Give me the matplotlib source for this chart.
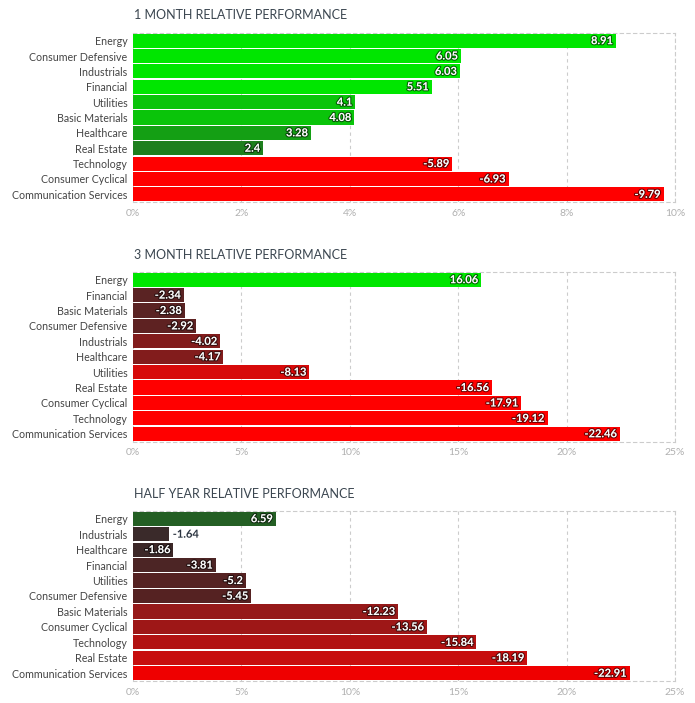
import matplotlib
matplotlib.use("Agg")
import matplotlib.pyplot as plt
import matplotlib.patheffects as pe
from matplotlib.ticker import FuncFormatter, MultipleLocator

plt.rcParams['font.family'] = ['Lato', 'DejaVu Sans']

titles = ["1 MONTH RELATIVE PERFORMANCE", "3 MONTH RELATIVE PERFORMANCE", "HALF YEAR RELATIVE PERFORMANCE"]

m1_labels = ["Energy", "Consumer Defensive", "Industrials", "Financial", "Utilities", "Basic Materials",
             "Healthcare", "Real Estate", "Technology", "Consumer Cyclical", "Communication Services"]
m1_values = [8.91, 6.05, 6.03, 5.51, 4.1, 4.08, 3.28, 2.4, -5.89, -6.93, -9.79]
m1_colors = ["#00e600", "#00e600", "#00e600", "#00e600", "#0ac40a", "#0ac40a", "#149f14", "#1e7f1e",
             "#ff0000", "#ff0000", "#ff0000"]

m3_labels = ["Energy", "Financial", "Basic Materials", "Consumer Defensive", "Industrials", "Healthcare",
             "Utilities", "Real Estate", "Consumer Cyclical", "Technology", "Communication Services"]
m3_values = [16.06, -2.34, -2.38, -2.92, -4.02, -4.17, -8.13, -16.56, -17.91, -19.12, -22.46]
m3_colors = ["#00e600", "#5a2323", "#5a2323", "#5e2222", "#821c1c", "#821c1c", "#d70a0a",
             "#ff0000", "#ff0000", "#ff0000", "#ff0000"]

hy_labels = ["Energy", "Industrials", "Healthcare", "Financial", "Utilities", "Consumer Defensive",
             "Basic Materials", "Consumer Cyclical", "Technology", "Real Estate", "Communication Services"]
hy_values = [6.59, -1.64, -1.86, -3.81, -5.2, -5.45, -12.23, -13.56, -15.84, -18.19, -22.91]
hy_colors = ["#245f24", "#3a2a2a", "#3c2828", "#4c2525", "#552222", "#552222", "#961919", "#9e1717",
             "#b21212", "#c70e0e", "#ef0000"]

x_max = [10, 25, 25]
x_step = [2, 5, 5]

panels = [(m1_labels, m1_values, m1_colors), (m3_labels, m3_values, m3_colors),
          (hy_labels, hy_values, hy_colors)]

W, H = 695, 703
fig = plt.figure(figsize=(W / 100, H / 100), dpi=100)

tops = [33, 272, 511]
bottoms = [202, 441.5, 681]
left_px, right_px = 133, 675
title_y = [15, 255, 494]

grid_col = "#cccccc"
dash = (0, (3, 3))

for i, (labels, values, colors) in enumerate(panels):
    ax = fig.add_axes([left_px / W, 1 - bottoms[i] / H, (right_px - left_px) / W,
                       (bottoms[i] - tops[i]) / H])
    n = len(labels)
    y = list(range(n))
    mags = [abs(v) for v in values]
    ax.barh(y, mags, height=0.92, color=colors, edgecolor='none', zorder=3)
    ax.set_ylim(n - 0.5, -0.5)
    ax.set_xlim(0, x_max[i])
    ax.set_yticks(y)
    ax.set_yticklabels(labels, fontsize=7.7, color="#444444")
    ax.xaxis.set_major_locator(MultipleLocator(x_step[i]))
    ax.xaxis.set_major_formatter(FuncFormatter(lambda v, p: f"{v:g}%"))
    ax.tick_params(axis='both', length=0)
    ax.tick_params(axis='x', labelsize=7.5, labelcolor="#b0b0b0", pad=5)
    ax.tick_params(axis='y', pad=4)
    ax.grid(axis='x', color=grid_col, linestyle=dash, linewidth=0.8, zorder=0)
    for s in ax.spines.values():
        s.set_color(grid_col)
        s.set_linestyle(dash)
        s.set_linewidth(0.8)
    ax.spines['left'].set_visible(False)

    # value labels
    for yi, v, m in zip(y, values, mags):
        txt = f"{v:g}"
        bar_px = m / x_max[i] * (right_px - left_px)
        est_w = len(txt) * 5.6 + 10
        if bar_px > est_w:
            ax.annotate(txt, (m, yi), xytext=(-2, 0), textcoords='offset points',
                        ha='right', va='center', fontsize=8, fontweight='bold', color='white',
                        zorder=5,
                        path_effects=[pe.withStroke(linewidth=1.6, foreground=(0, 0, 0, 0.55))])
        else:
            ax.annotate(txt, (m, yi), xytext=(3, 0), textcoords='offset points',
                        ha='left', va='center', fontsize=8, fontweight='bold', color='#2b3440',
                        zorder=5,
                        path_effects=[pe.withStroke(linewidth=1.6, foreground='white')])

    fig.text(134 / W, 1 - title_y[i] / H, titles[i], fontsize=9.0, color="#3b4650",
             ha='left', va='center')

fig.savefig("out.png", dpi=100, facecolor='white')
